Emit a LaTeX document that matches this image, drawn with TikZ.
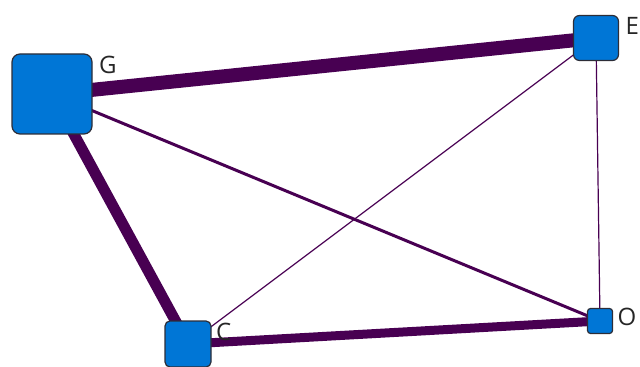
\documentclass[tikz,border=0pt]{standalone}
\usepackage{fontspec}
\setmainfont{Open Sans}
\usetikzlibrary{backgrounds}
\definecolor{edgepurple}{RGB}{72,0,82}
\definecolor{nodeblue}{RGB}{0,118,214}
\definecolor{nodeedge}{RGB}{45,45,55}

\tikzset{
    vertex/.style={draw=nodeedge, fill=nodeblue, line width=0.6pt,
        rounded corners=#1, inner sep=0pt},
    lbl/.style={anchor=north west, inner sep=0pt, font=\fontsize{12}{14}\selectfont,
        text=black!85},
    link/.style={draw=edgepurple, line width=#1}
}

\begin{document}
\begin{tikzpicture}[x=0.5pt, y=-0.5pt]
    \useasboundingbox (0,0) rectangle (640,367);

    % Vertices
    \node[vertex=4pt, minimum size=40pt,
        label={[lbl, xshift=3pt, yshift=-1pt]north east:G}] (G) at (52,94) {};
    \node[vertex=3pt, minimum size=22.5pt,
        label={[lbl, xshift=3pt, yshift=-1pt]north east:E}] (E) at (596,38) {};
    \node[vertex=2.5pt, minimum size=23pt,
        label={[lbl, xshift=2pt, yshift=-1pt]north east:C}] (C) at (188,344) {};
    \node[vertex=1.5pt, minimum size=12.5pt,
        label={[lbl, xshift=2pt, yshift=0pt]north east:O}] (O) at (600,321) {};

    % Weighted edges
    \begin{pgfonlayer}{background}
        \draw[link=7pt] (G.center) -- (E.center);
        \draw[link=5.5pt] (G.center) -- (C.center);
        \draw[link=4.5pt] (C.center) -- (O.center);
        \draw[link=1.5pt] (G.center) -- (O.center);
        \draw[link=0.6pt] (C.center) -- (E.center);
        \draw[link=0.6pt] (E.center) -- (O.center);
    \end{pgfonlayer}
\end{tikzpicture}
\end{document}
